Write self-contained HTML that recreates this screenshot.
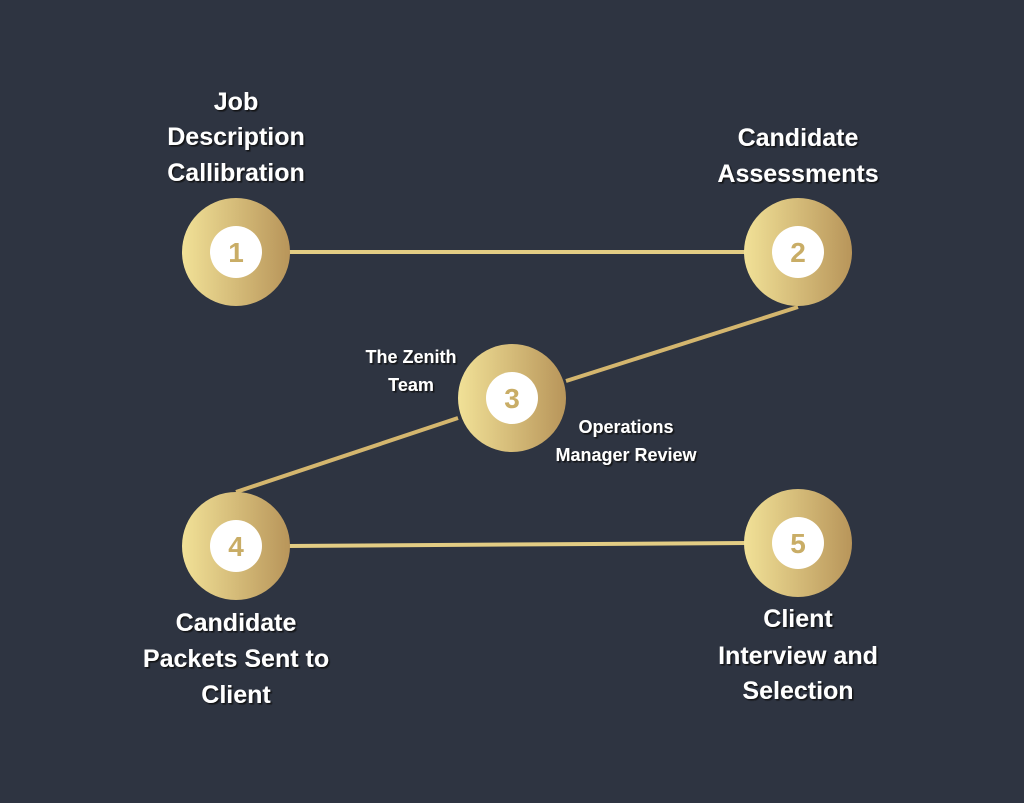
<!DOCTYPE html>
<html><head><style>
body{margin:0;background:#2e3441;}
svg{display:block}
text{font-family:"Liberation Sans",sans-serif;font-weight:bold;fill:#fff;text-anchor:middle;}
.b{font-size:25px}
.s{font-size:18px}
.n{fill:#c9ad66;font-size:28px}
</style></head><body>
<svg width="1024" height="803" viewBox="0 0 1024 803">
<defs>
<linearGradient id="g" x1="0" x2="1" y1="0" y2="0">
<stop offset="0" stop-color="#f1e197"/><stop offset="1" stop-color="#b8955a"/>
</linearGradient>
<linearGradient id="l" x1="0" x2="1" y1="0" y2="0">
<stop offset="0" stop-color="#f0dc95"/><stop offset="1" stop-color="#bb9a5c"/>
</linearGradient>
<filter id="sh"><feDropShadow dx="1.5" dy="1.5" stdDeviation="0.6" flood-color="#111" flood-opacity="0.9"/></filter>
</defs>
<rect width="1024" height="803" fill="#2e3441"/>
<g stroke-width="4">
<line x1="288" y1="252" x2="746" y2="252" stroke="#e3cd84"/>
<line x1="798" y1="307" x2="566" y2="381" stroke="#d4b66e"/>
<line x1="458" y1="418" x2="236" y2="492" stroke="#d4b66e"/>
<line x1="288" y1="546" x2="746" y2="543" stroke="#e3cd84"/>
</g>
<g fill="url(#g)">
<circle cx="236" cy="252" r="54"/><circle cx="798" cy="252" r="54"/>
<circle cx="512" cy="398" r="54"/><circle cx="236" cy="546" r="54"/>
<circle cx="798" cy="543" r="54"/>
</g>
<g fill="#fff">
<circle cx="236" cy="252" r="26"/><circle cx="798" cy="252" r="26"/>
<circle cx="512" cy="398" r="26"/><circle cx="236" cy="546" r="26"/>
<circle cx="798" cy="543" r="26"/>
</g>
<text class="n" x="236" y="262">1</text>
<text class="n" x="798" y="262">2</text>
<text class="n" x="512" y="408">3</text>
<text class="n" x="236" y="556">4</text>
<text class="n" x="798" y="553">5</text>
<g filter="url(#sh)">
<text class="b" x="236" y="110">Job</text>
<text class="b" x="236" y="145">Description</text>
<text class="b" x="236" y="181">Callibration</text>
<text class="b" x="798" y="146">Candidate</text>
<text class="b" x="798" y="182">Assessments</text>
<text class="b" x="236" y="631">Candidate</text>
<text class="b" x="236" y="667">Packets Sent to</text>
<text class="b" x="236" y="703">Client</text>
<text class="b" x="798" y="627">Client</text>
<text class="b" x="798" y="664">Interview and</text>
<text class="b" x="798" y="699">Selection</text>
<text class="s" x="411" y="363">The Zenith</text>
<text class="s" x="411" y="391">Team</text>
<text class="s" x="626" y="433">Operations</text>
<text class="s" x="626" y="461">Manager Review</text>
</g>
</svg>
</body></html>
